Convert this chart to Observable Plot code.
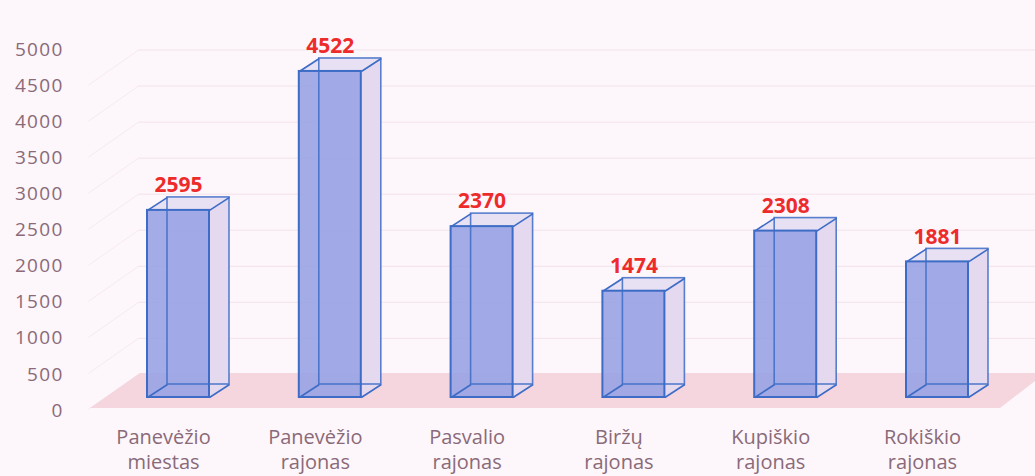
<!DOCTYPE html>
<html><head><meta charset="utf-8">
<script src="https://cdn.jsdelivr.net/npm/d3@7"></script>
<script src="https://cdn.jsdelivr.net/npm/@observablehq/plot@0.6"></script>
<style>
html,body{margin:0;padding:0;background:#fdf6fb;overflow:hidden}
g[aria-label="y-axis tick label"] text{letter-spacing:1.3px}
g[aria-label="category labels"] text{letter-spacing:1.8px}
g[aria-label="value labels"] text{letter-spacing:1.2px}
</style>
</head><body><div id="chart"></div>
<script>
// ---- data ----
const categories = ["Panevėžio\nmiestas","Panevėžio\nrajonas","Pasvalio\nrajonas","Biržų\nrajonas","Kupiškio\nrajonas","Rokiškio\nrajonas"];
const values = [2595, 4522, 2370, 1474, 2308, 1881];
const yTicks = [0, 500, 1000, 1500, 2000, 2500, 3000, 3500, 4000, 4500, 5000];

// ---- layout ----
const W = 1035, H = 476, mL = 102.1, mR = 22.1, mT = 0, mB = 79;
const slot = (W - mL - mR) / categories.length;   // px per x unit
const pxPerY = 0.0721;                              // px per value unit
const yMax = (H - mT - mB) / pxPerY;
const px2x = px => (px - mL) / slot;                // pixel -> x data
const off2y = py => py / pxPerY;                    // pixel offset -> y data
const DX = 20 / slot, DY = off2y(13);               // 3D depth offset
const HW = 31 / slot;                               // half bar width

const bars = categories.map((c, i) => ({c, v: values[i], xc: i + 0.5, xl: i + 0.5 - HW, xr: i + 0.5 + HW}));
const sides = bars.flatMap(b => [{c: b.c, x: b.xr, y1: 0, y2: b.v}, {c: b.c, x: b.xr + DX, y1: DY, y2: b.v + DY}]);
const tops = bars.flatMap(b => [{c: b.c, y: b.v, x1: b.xl, x2: b.xr}, {c: b.c, y: b.v + DY, x1: b.xl + DX, x2: b.xr + DX}]);
const edges = bars.flatMap(b => [[b.xl, 0], [b.xr, 0], [b.xl, b.v], [b.xr, b.v]].map(([x, y]) => ({x1: x, y1: y, x2: x + DX, y2: y + DY})));
const fF = off2y(-11), fB = off2y(24);
const floor = [
  {x: px2x(90), y1: fF, y2: fF},
  {x: px2x(140), y1: fF, y2: fB},
  {x: px2x(1000), y1: fF, y2: fB},
  {x: px2x(1035), y1: off2y(16), y2: fB}
];

const blue = "#3d6cc6";
const chart = Plot.plot({
  width: W, height: H,
  marginLeft: mL, marginRight: mR, marginTop: mT, marginBottom: mB,
  style: {background: "#fdf6fb", fontFamily: "'Open Sans', sans-serif", color: "#8a6a78"},
  x: {domain: [0, categories.length], axis: null},
  y: {domain: [0, yMax], axis: null},
  marks: [
    // back wall grid
    Plot.ruleY(yTicks.filter(d => d > 0), {y: d => d, x1: px2x(138), x2: px2x(1035), dy: 13, stroke: "#f3e3ec", strokeWidth: 1}),
    Plot.link(yTicks.filter(d => d > 0), {x1: px2x(138), x2: px2x(88), y1: d => d, y2: d => d - off2y(35), dy: 13, stroke: "#f7eaf1", strokeWidth: 1}),
    // floor
    Plot.areaY(floor, {x: "x", y1: "y1", y2: "y2", fill: "#f5d6de"}),
    // faces
    Plot.rect(bars, {x1: d => d.xl + DX, x2: d => d.xr + DX, y1: DY, y2: d => d.v + DY, fill: "#ddd6f1", fillOpacity: 0.6}),
    Plot.areaY(sides, {x: "x", y1: "y1", y2: "y2", z: "c", fill: "#e4d9ef"}),
    Plot.areaX(tops, {y: "y", x1: "x1", x2: "x2", z: "c", fill: "#e8e0f3"}),
    Plot.rect(bars, {x1: "xl", x2: "xr", y1: 0, y2: "v", fill: "#96a2e4", fillOpacity: 0.88}),
    // edges
    Plot.rect(bars, {x1: d => d.xl + DX, x2: d => d.xr + DX, y1: DY, y2: d => d.v + DY, fill: "none", stroke: blue, strokeWidth: 1.6, strokeOpacity: 0.85}),
    Plot.link(edges, {x1: "x1", y1: "y1", x2: "x2", y2: "y2", stroke: blue, strokeWidth: 1.6}),
    Plot.rect(bars, {x1: "xl", x2: "xr", y1: 0, y2: "v", fill: "none", stroke: blue, strokeWidth: 2}),
    // axis
    Plot.axisY(yTicks, {ticks: yTicks, tickSize: 0, tickPadding: 39, dy: 13, fontSize: 19, fontWeight: 500, tickFormat: d => String(d), fill: "#8a6a78"}),
    // value labels
    Plot.text(bars, {x: "xc", y: "v", text: d => String(d.v), dy: -25, fill: "#ee2b2b", fontWeight: "bold", fontSize: 21, ariaLabel: "value labels"}),
    // category labels
    Plot.text(bars, {x: "xc", text: "c", frameAnchor: "bottom", lineAnchor: "top", dy: 29, dx: -15, lineHeight: 1.25, fontSize: 20, fill: "#8a6a78", ariaLabel: "category labels"})
  ]
});
document.getElementById("chart").appendChild(chart);
</script>
</body></html>
